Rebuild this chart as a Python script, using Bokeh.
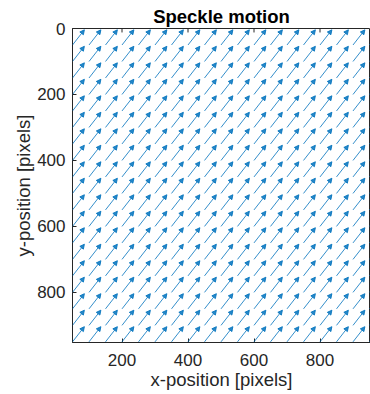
from bokeh.plotting import figure
from bokeh.models import (ColumnDataSource, Range1d, Arrow, NormalHead, FixedTicker,
                          LinearAxis)
from bokeh.embed import file_html
from bokeh.resources import INLINE

# ---- data ----
x_grid = [50, 100, 150, 200, 250, 300, 350, 400, 450, 500,
          550, 600, 650, 700, 750, 800, 850, 900, 950]
y_grid = [50, 100, 150, 200, 250, 300, 350, 400, 450, 500,
          550, 600, 650, 700, 750, 800, 850, 900, 950]
u_disp = 36      # x displacement (scaled) of every speckle
v_disp = -46     # y displacement (scaled) of every speckle
x_ticks = [200, 400, 600, 800]
y_ticks = [0, 200, 400, 600, 800]
title_text = "Speckle motion"

xs, ys, xe, ye = [], [], [], []
for yy in y_grid:
    for xx in x_grid:
        xs.append(xx)
        ys.append(yy)
        xe.append(xx + u_disp)
        ye.append(yy + v_disp)
src = ColumnDataSource(dict(xs=xs, ys=ys, xe=xe, ye=ye))

FONT = "Liberation Sans"
TXT = "#262626"
BLUE = "#0072BD"

p = figure(width=370, height=394, output_backend="svg", toolbar_location=None,
           x_range=Range1d(50, 953), y_range=Range1d(952, 0),
           x_axis_type=None, y_axis_type=None,
           min_border_left=72, min_border_right=0, min_border_top=28,
           min_border_bottom=52)
p.background_fill_color = "white"
p.border_fill_color = "white"
p.outline_line_color = TXT
p.outline_line_width = 1
p.grid.visible = False

arrows = Arrow(source=src, x_start="xs", y_start="ys", x_end="xe", y_end="ye",
               line_color=BLUE, line_width=1.0, line_alpha=0.8,
               end=NormalHead(size=4.5, line_color=BLUE, line_width=1,
                              fill_color=BLUE, fill_alpha=0.85, line_alpha=0.85))
p.add_layout(arrows)

# inward tick marks along the top edge of the box
p.segment(x0=x_ticks, y0=[0] * len(x_ticks), x1=x_ticks, y1=[12] * len(x_ticks),
          line_color=TXT, line_width=1)

def style_axis(ax):
    ax.axis_line_color = TXT
    ax.major_tick_line_color = TXT
    ax.major_tick_in = 4
    ax.major_tick_out = 0
    ax.minor_tick_line_color = None
    ax.major_label_text_font = FONT
    ax.major_label_text_color = TXT
    ax.major_label_text_font_size = "17px"
    ax.axis_label_text_font = FONT
    ax.axis_label_text_color = TXT
    ax.axis_label_text_font_size = "18.5px"
    ax.axis_label_text_font_style = "normal"

xax = LinearAxis(ticker=FixedTicker(ticks=x_ticks), axis_label="x-position [pixels]")
style_axis(xax)
xax.major_label_standoff = 11
xax.axis_label_standoff = 0
p.add_layout(xax, "below")

yax = LinearAxis(ticker=FixedTicker(ticks=y_ticks), axis_label="y-position [pixels]")
style_axis(yax)
yax.major_label_standoff = 7
yax.axis_label_standoff = 0
p.add_layout(yax, "left")

p.title.text = title_text
p.title.text_font = FONT
p.title.text_font_size = "18.5px"
p.title.text_font_style = "bold"
p.title.text_color = "black"
p.title.align = "center"
p.title.vertical_align = "top"
p.title.offset = 6
p.title.standoff = 0

open("out.html", "w").write(file_html(p, INLINE))
